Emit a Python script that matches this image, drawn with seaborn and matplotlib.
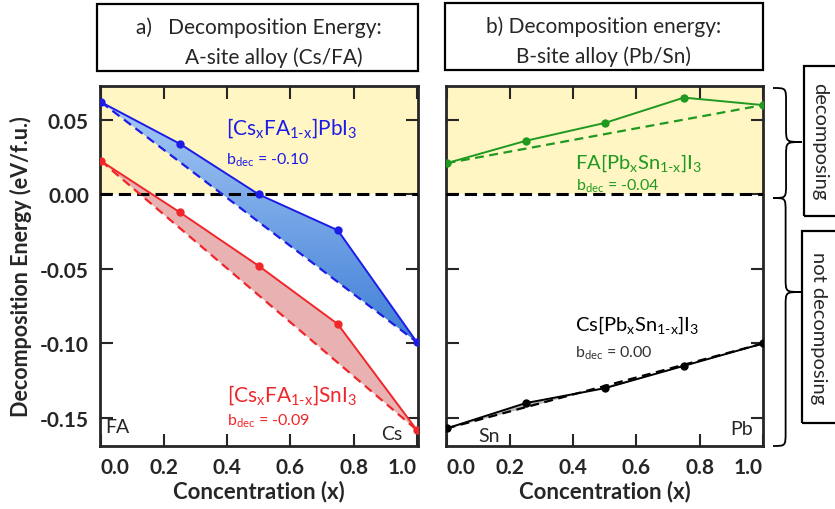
import matplotlib
matplotlib.use('Agg')

import numpy as np
import matplotlib.pyplot as plt
import seaborn as sns
from matplotlib.patches import Rectangle, PathPatch
from matplotlib.path import Path
from matplotlib.colors import LinearSegmentedColormap

# data (eV / f.u.)
conc = [0.0, 0.25, 0.5, 0.75, 1.0]
pb_a = [0.062, 0.034, 0.000, -0.024, -0.099]      # [CsxFA1-x]PbI3
sn_a = [0.0225, -0.012, -0.048, -0.087, -0.158]   # [CsxFA1-x]SnI3
fa_b = [0.021, 0.036, 0.048, 0.065, 0.060]        # FA[PbxSn1-x]I3
cs_b = [-0.157, -0.140, -0.130, -0.115, -0.100]   # Cs[PbxSn1-x]I3
xticks = [0.0, 0.2, 0.4, 0.6, 0.8, 1.0]
xticklabels = ['0.0', '0.2', '0.4', '0.6', '0.8', '1.0']
yticks = [-0.15, -0.10, -0.05, 0.00, 0.05]
yticklabels = ['-0.15', '-0.10', '-0.05', '0.00', '0.05']
bdec = {'pb_a': '-0.10', 'sn_a': '-0.09', 'fa_b': '-0.04', 'cs_b': '0.00'}

BLUE = '#1c1ce6'
RED = '#f0262b'
GREEN = '#1f991f'
YELLOW = '#fff6c4'
YTOP, YBOT = 0.0728, -0.1688

sns.set_style('ticks')
plt.rcParams['font.family'] = ['Lato', 'DejaVu Sans']
plt.rcParams['mathtext.fontset'] = 'custom'
plt.rcParams['mathtext.rm'] = 'Lato'
plt.rcParams['mathtext.it'] = 'Lato:italic'
plt.rcParams['mathtext.bf'] = 'Lato:bold'

W, H = 835, 510
fig = plt.figure(figsize=(W / 100, H / 100), dpi=100)


def fx(px):
    return px / W


def fy(py):
    return 1 - py / H


ax_a = fig.add_axes([fx(100), fy(447), fx(418) - fx(100), fy(87) - fy(447)])
ax_b = fig.add_axes([fx(446), fy(447), fx(763) - fx(446), fy(87) - fy(447)])


def style_axes(ax, xlim, show_ylabels):
    ax.axhspan(0, YTOP, color=YELLOW, zorder=0, lw=0)
    ax.axhline(0, color='black', linestyle=(0, (4, 2)), lw=2.2, zorder=3)
    ax.set_xticks(xticks)
    ax.set_xticklabels(xticklabels, fontweight='bold')
    ax.set_yticks(yticks)
    if show_ylabels:
        ax.set_yticklabels(yticklabels, fontweight='bold')
    else:
        ax.set_yticklabels([])
    ax.tick_params(direction='in', length=9, width=1.5, top=True, right=True,
                   labelsize=15, pad=8)
    xl = ax.get_xticklabels()
    xl[0].set_ha('left')
    xl[-1].set_ha('right')
    for s in ax.spines.values():
        s.set_linewidth(2)
    ax.set_xlim(*xlim)
    ax.set_ylim(YBOT, YTOP)
    ax.set_xlabel('Concentration (x)', fontsize=16, fontweight='bold', labelpad=2)


def draw_series(ax, y, color, fill=None, gradient=None):
    x = np.array(conc)
    y = np.array(y)
    ends_x = [conc[0], conc[-1]]
    ends_y = [y[0], y[-1]]
    hull = np.interp(x, ends_x, ends_y)
    if gradient is not None:
        poly = ax.fill_between(x, y, hull, color='none', lw=0)
        grad = np.linspace(0, 1, 256).reshape(-1, 1)
        im = ax.imshow(grad, extent=[0, 1, min(y.min(), hull.min()), max(y.max(), hull.max())],
                       origin='upper', aspect='auto', zorder=1.5,
                       cmap=LinearSegmentedColormap.from_list('g', gradient))
        im.set_clip_path(poly.get_paths()[0], transform=ax.transData)
    elif fill is not None:
        ax.fill_between(x, y, hull, color=fill, lw=0, zorder=1.5)
    sns.lineplot(x=ends_x, y=ends_y, ax=ax, color=color, lw=1.6,
                 linestyle=(0, (4, 2.5)), zorder=4)
    sns.lineplot(x=conc, y=list(y), ax=ax, color=color, lw=1.4, marker='o',
                 markersize=6, markeredgewidth=0, zorder=5)


SUB = r'$_\mathrm{1\text{-}x}$'

# a) A-site alloy
draw_series(ax_a, pb_a, BLUE, gradient=['#a6c9f5', '#3f7ed6'])
draw_series(ax_a, sn_a, RED, fill='#e8b2b2')
style_axes(ax_a, (-0.003, 1.004), True)
ax_a.set_ylabel('Decomposition Energy (eV/f.u.)', fontsize=15.5, fontweight='bold', labelpad=6)

ax_a.text(0.395, 0.0455, r'[Cs$_\mathrm{x}$FA' + SUB + r']PbI$_3$', color=BLUE,
          fontsize=15, va='center', ha='left')
ax_a.text(0.395, 0.0238, r'b$_\mathrm{dec}$ = ' + bdec['pb_a'], color=BLUE,
          fontsize=11.5, va='center', ha='left')
ax_a.text(0.40, -0.134, r'[Cs$_\mathrm{x}$FA' + SUB + r']SnI$_3$', color=RED,
          fontsize=15, va='center', ha='left')
ax_a.text(0.40, -0.1515, r'b$_\mathrm{dec}$ = ' + bdec['sn_a'], color=RED,
          fontsize=11.5, va='center', ha='left')
ax_a.text(0.015, -0.156, 'FA', fontsize=14, va='center', ha='left')
ax_a.text(0.955, -0.1607, 'Cs', fontsize=14, va='center', ha='right')

# b) B-site alloy
draw_series(ax_b, fa_b, GREEN)
draw_series(ax_b, cs_b, 'black', fill='#b8b8b8')
style_axes(ax_b, (-0.002, 1.0), False)

ax_b.text(0.405, 0.0215, r'FA[Pb$_\mathrm{x}$Sn' + SUB + r']I$_3$', color=GREEN,
          fontsize=14.5, va='center', ha='left')
ax_b.text(0.41, 0.0062, r'b$_\mathrm{dec}$ = ' + bdec['fa_b'], color=GREEN,
          fontsize=11.5, va='center', ha='left')
ax_b.text(0.405, -0.087, r'Cs[Pb$_\mathrm{x}$Sn' + SUB + r']I$_3$', color='black',
          fontsize=14.5, va='center', ha='left')
ax_b.text(0.405, -0.1057, r'b$_\mathrm{dec}$ = ' + bdec['cs_b'], color='#333333',
          fontsize=11.5, va='center', ha='left')
ax_b.text(0.10, -0.162, 'Sn', fontsize=14, va='center', ha='left')
ax_b.text(0.967, -0.157, 'Pb', fontsize=14, va='center', ha='right')


# title boxes
def fig_box(x0, y0, x1, y1):
    fig.add_artist(Rectangle((fx(x0), fy(y1)), fx(x1) - fx(x0), fy(y0) - fy(y1),
                             transform=fig.transFigure, fill=False, ec='black', lw=1.6))


fig_box(97, 5, 418, 72)
fig.text(fx(259), fy(28), 'a)   Decomposition Energy:', fontsize=15, ha='center', va='center')
fig.text(fx(274), fy(58), 'A-site alloy (Cs/FA)', fontsize=15, ha='center', va='center')
fig_box(445, 4, 763, 71)
fig.text(fx(604), fy(27), 'b) Decomposition energy:', fontsize=15, ha='center', va='center')
fig.text(fx(604), fy(57), 'B-site alloy (Pb/Sn)', fontsize=15, ha='center', va='center')


# curly braces on the right
def brace(x0, yt, yb, ym, w, r=14):
    xm = x0 + w * 0.45
    xt = x0 + w
    pts = [(x0, yt), (xm, yt), (xm, yt), (xm, yt + r),
           (xm, ym - r),
           (xm, ym), (xm, ym), (xt, ym),
           (xm, ym), (xm, ym), (xm, ym + r),
           (xm, yb - r),
           (xm, yb), (xm, yb), (x0, yb)]
    codes = [Path.MOVETO, Path.CURVE4, Path.CURVE4, Path.CURVE4,
             Path.LINETO,
             Path.CURVE4, Path.CURVE4, Path.CURVE4,
             Path.CURVE4, Path.CURVE4, Path.CURVE4,
             Path.LINETO,
             Path.CURVE4, Path.CURVE4, Path.CURVE4]
    verts = [(fx(px), fy(py)) for px, py in pts]
    fig.add_artist(PathPatch(Path(verts, codes), transform=fig.transFigure,
                             fill=False, ec='black', lw=1.3))


brace(773, 89, 199, 143, 29)
brace(773, 199, 447, 293, 28)

fig_box(804, 67, 842, 217)
fig.text(fx(820), fy(142), 'decomposing', fontsize=14.5, rotation=-90,
         ha='center', va='center')
fig_box(802, 232, 842, 424)
fig.text(fx(819), fy(328), 'not decomposing', fontsize=14.5, rotation=-90,
         ha='center', va='center')

fig.savefig('out.png', dpi=100)
